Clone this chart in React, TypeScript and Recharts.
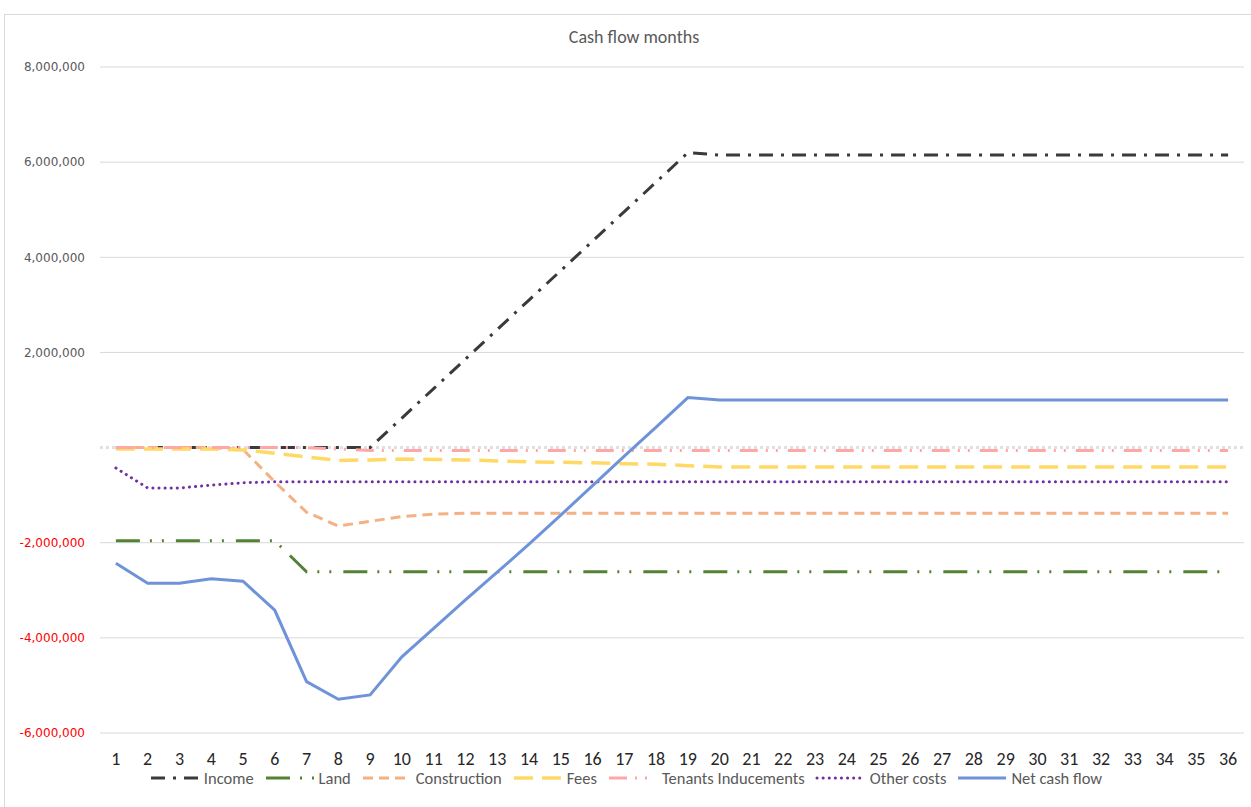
import React from "react";
import { LineChart, Line, XAxis, YAxis, ReferenceLine } from "recharts";

const months = [
  1, 2, 3, 4, 5, 6, 7, 8, 9, 10, 11, 12, 13, 14, 15, 16, 17, 18,
  19, 20, 21, 22, 23, 24, 25, 26, 27, 28, 29, 30, 31, 32, 33, 34, 35, 36,
];

const income = [
  0, 0, 0, 0, 0, 0, 0, 0, 0, 620000, 1240000, 1860000, 2480000, 3100000, 3720000, 4340000, 4960000, 5580000,
  6200000, 6150000, 6150000, 6150000, 6150000, 6150000, 6150000, 6150000, 6150000, 6150000, 6150000, 6150000,
  6150000, 6150000, 6150000, 6150000, 6150000, 6150000,
];

const land = [
  -1960000, -1960000, -1960000, -1960000, -1960000, -1960000, -2610000, -2610000, -2610000, -2610000, -2610000, -2610000,
  -2610000, -2610000, -2610000, -2610000, -2610000, -2610000, -2610000, -2610000, -2610000, -2610000, -2610000, -2610000,
  -2610000, -2610000, -2610000, -2610000, -2610000, -2610000, -2610000, -2610000, -2610000, -2610000, -2610000, -2610000,
];

const construction = [
  0, 0, 0, 0, -40000, -720000, -1360000, -1650000, -1550000, -1450000, -1400000, -1380000,
  -1380000, -1380000, -1380000, -1380000, -1380000, -1380000, -1380000, -1380000, -1380000, -1380000, -1380000, -1380000,
  -1380000, -1380000, -1380000, -1380000, -1380000, -1380000, -1380000, -1380000, -1380000, -1380000, -1380000, -1380000,
];

const fees = [
  -30000, -30000, -30000, -30000, -50000, -120000, -200000, -270000, -260000, -240000, -250000, -260000,
  -280000, -300000, -310000, -320000, -340000, -350000, -380000, -410000, -410000, -410000, -410000, -410000,
  -410000, -410000, -410000, -410000, -410000, -410000, -410000, -410000, -410000, -410000, -410000, -410000,
];

const tenants = [
  0, 0, 0, 0, 0, 0, 0, -30000, -60000, -60000, -60000, -60000,
  -60000, -60000, -60000, -60000, -60000, -60000, -60000, -60000, -60000, -60000, -60000, -60000,
  -60000, -60000, -60000, -60000, -60000, -60000, -60000, -60000, -60000, -60000, -60000, -60000,
];

const otherCosts = [
  -430000, -850000, -850000, -790000, -740000, -720000, -720000, -720000, -720000, -720000, -720000, -720000,
  -720000, -720000, -720000, -720000, -720000, -720000, -720000, -720000, -720000, -720000, -720000, -720000,
  -720000, -720000, -720000, -720000, -720000, -720000, -720000, -720000, -720000, -720000, -720000, -720000,
];

const netCashFlow = [
  -2430000, -2850000, -2850000, -2760000, -2810000, -3420000, -4920000, -5290000, -5200000, -4400000, -3800000, -3200000,
  -2620000, -2030000, -1420000, -800000, -180000, 430000, 1050000, 1000000, 1000000, 1000000, 1000000, 1000000,
  1000000, 1000000, 1000000, 1000000, 1000000, 1000000, 1000000, 1000000, 1000000, 1000000, 1000000, 1000000,
];

const yTicks = [-6000000, -4000000, -2000000, 0, 2000000, 4000000, 6000000, 8000000];

const data = months.map((m, i) => ({
  month: m,
  income: income[i],
  land: land[i],
  construction: construction[i],
  fees: fees[i],
  tenants: tenants[i],
  other: otherCosts[i],
  net: netCashFlow[i],
}));

const series = [
  { key: "income", name: "Income", color: "#3A3A3A", width: 3, dash: "14 8 3 8" },
  { key: "land", name: "Land", color: "#548235", width: 3, dash: "24 10 2 10 2 12" },
  { key: "construction", name: "Construction", color: "#F4B183", width: 3, dash: "10 6" },
  { key: "fees", name: "Fees", color: "#FFD966", width: 3.5, dash: "19 9" },
  { key: "tenants", name: "Tenants Inducements", color: "#FFA7A7", width: 3, dash: "18 8 2 8 2 10" },
  { key: "other", name: "Other costs", color: "#7030A0", width: 3, dash: "0.1 6", cap: "round" },
  { key: "net", name: "Net cash flow", color: "#6F93D8", width: 3, dash: undefined },
];

const font = "Carlito, 'Open Sans', sans-serif";

const YTick = ({ x, y, payload }: any) => (
  <text
    x={x}
    y={y}
    dy="0.355em"
    textAnchor="end"
    fontFamily="'DejaVu Sans', sans-serif"
    fontSize={12}
    fill={payload.value < 0 ? "#FF0000" : "#595959"}
  >
    {payload.value === 0 ? "" : payload.value.toLocaleString("en-US")}
  </text>
);

const XTick = ({ x, y, payload }: any) => (
  <text x={x} y={y} dy="0.71em" textAnchor="middle" fontFamily={font} fontSize={18} fill="#262626">
    {payload.value}
  </text>
);

export default function App() {
  return (
    <div style={{ position: "absolute", left: 0, top: 0, width: 1251, height: 807, background: "#fff", overflow: "hidden" }}>
      <div
        style={{
          position: "absolute",
          left: 4,
          top: 14,
          width: 1260,
          height: 820,
          border: "1px solid #D9D9D9",
        }}
      />
      <div
        style={{
          position: "absolute",
          top: 26,
          left: 0,
          width: 1268,
          textAlign: "center",
          fontFamily: font,
          fontSize: 18,
          color: "#595959",
        }}
      >
        Cash flow months
      </div>
      <LineChart
        width={1251}
        height={807}
        data={data}
        margin={{ top: 67, right: 7, bottom: 44, left: 0 }}
        style={{ position: "absolute", left: 0, top: 0 }}
      >
        <XAxis
          dataKey="month"
          scale="band"
          height={30}
          axisLine={false}
          tickLine={false}
          tickSize={0}
          tickMargin={19}
          interval={0}
          tick={<XTick />}
        />
        <YAxis
          width={100}
          domain={[-6000000, 8000000]}
          ticks={yTicks}
          axisLine={false}
          tickLine={false}
          tickSize={0}
          tickMargin={15}
          tick={<YTick />}
          interval={0}
        />
        {yTicks
          .filter((t) => t !== 0)
          .map((t) => (
            <ReferenceLine key={t} y={t} stroke="#D9D9D9" strokeWidth={1} />
          ))}
        <ReferenceLine y={0} stroke="#E0E0E0" strokeWidth={3} strokeDasharray="3 3" />
        {series.map((s) => (
          <Line
            key={s.key}
            dataKey={s.key}
            name={s.name}
            type="linear"
            stroke={s.color}
            strokeWidth={s.width}
            strokeDasharray={s.dash}
            strokeLinecap={(s.cap as any) || "butt"}
            dot={false}
            activeDot={false}
            isAnimationActive={false}
          />
        ))}
      </LineChart>
      <div
        style={{
          position: "absolute",
          top: 768,
          left: 0,
          width: 1251,
          display: "flex",
          justifyContent: "center",
          gap: 10,
          fontFamily: font,
          fontSize: 16.5,
          color: "#595959",
        }}
      >
        {series.map((s) => (
          <div key={s.key} style={{ display: "flex", alignItems: "center", gap: 3 }}>
            <svg width={52} height={20}>
              <line
                x1={2}
                y1={10}
                x2={50}
                y2={10}
                stroke={s.color}
                strokeWidth={s.width}
                strokeDasharray={s.dash}
                strokeLinecap={(s.cap as any) || "butt"}
              />
            </svg>
            <span>{s.name}</span>
          </div>
        ))}
      </div>
    </div>
  );
}
